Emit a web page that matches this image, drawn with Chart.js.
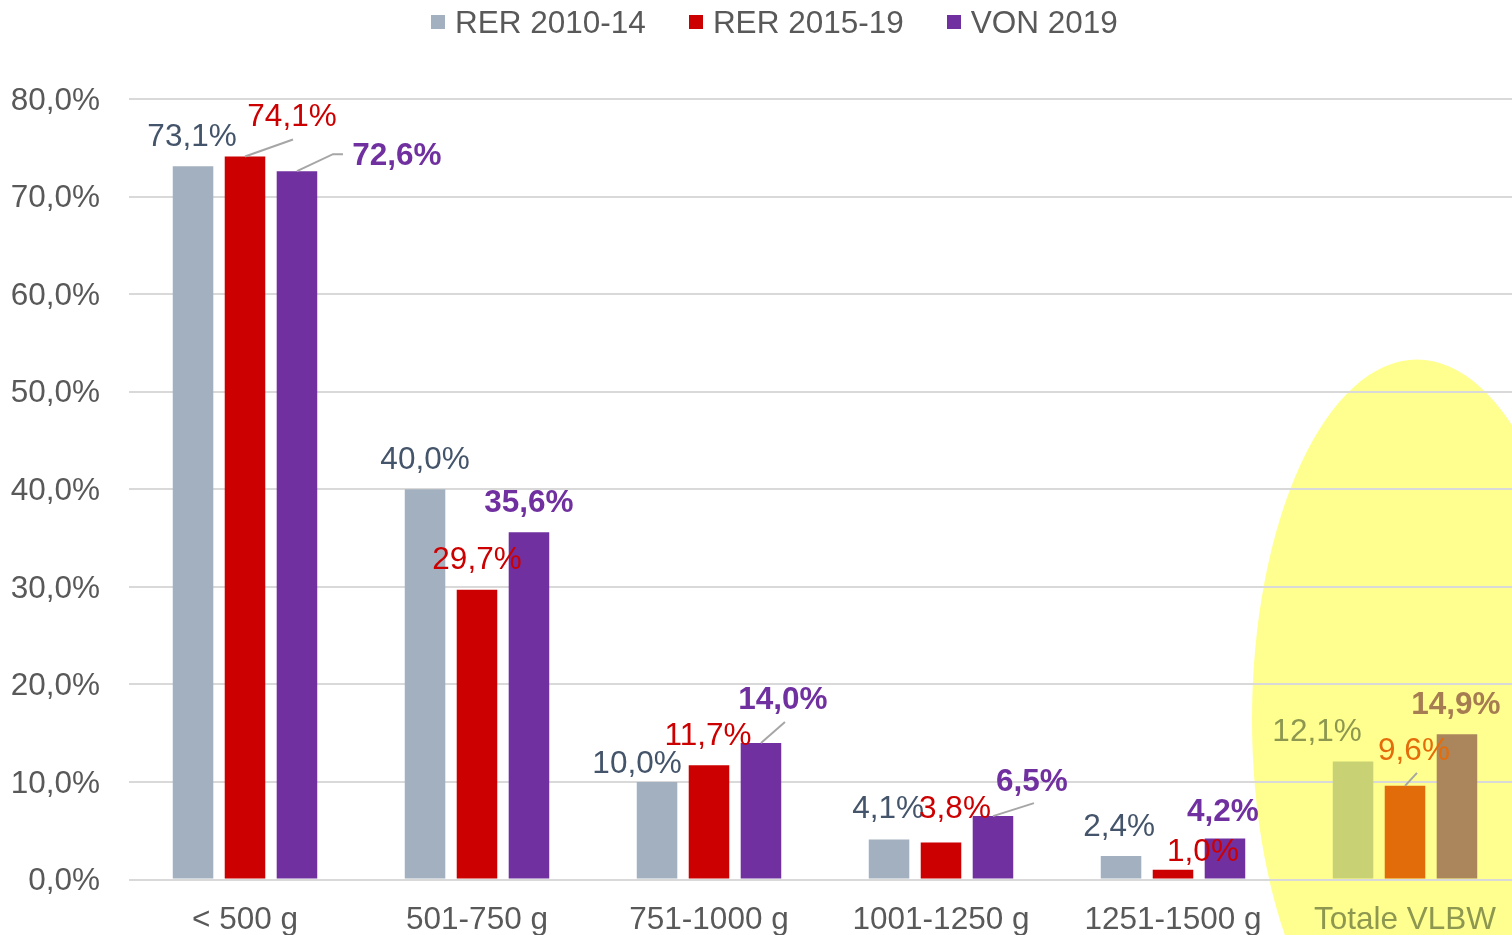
<!DOCTYPE html>
<html>
<head>
<meta charset="utf-8">
<script src="https://cdn.jsdelivr.net/npm/chart.js@4.4.1/dist/chart.umd.min.js"></script>
<style>
html, body { margin: 0; padding: 0; background: #fff; overflow: hidden; }
#wrap { position: absolute; left: 0; top: 0; width: 1521px; height: 935px; }
#legend {
    position: absolute; left: 431px; top: 0; height: 44px; z-index: 2;
    display: flex; align-items: center;
    font-family: 'Liberation Sans', Arial, sans-serif; font-size: 31.5px; color: #595959;
}
.item { display: flex; align-items: center; margin-right: 43px; }
.box { width: 14px; height: 14px; margin-right: 10px; }
</style>
</head>
<body>
<div id="wrap"><canvas id="chart"></canvas></div>
<div id="legend"></div>
<script>
// --- dati ---
const categories = ['< 500 g', '501-750 g', '751-1000 g', '1001-1250 g', '1251-1500 g', 'Totale VLBW'];
const seriesNames = ['RER 2010-14', 'RER 2015-19', 'VON 2019'];
const rer1014 = [73.1, 40.0, 10.0, 4.1, 2.4, 12.1];
const rer1519 = [74.1, 29.7, 11.7, 3.8, 1.0, 9.6];
const von2019 = [72.6, 35.6, 14.0, 6.5, 4.2, 14.9];
const yMin = 0, yMax = 80, yStep = 10;

// --- stile ---
const FONT = "'Liberation Sans', Arial, sans-serif";
const FS = 31.5;
const barColors = [
    ['#a3b0bf', '#a3b0bf', '#a3b0bf', '#a3b0bf', '#a3b0bf', '#c8d173'],
    ['#cc0000', '#cc0000', '#cc0000', '#cc0000', '#cc0000', '#e26b0a'],
    ['#7030a0', '#7030a0', '#7030a0', '#7030a0', '#7030a0', '#ab855c']
];
const labelColors = [
    ['#44546a', '#44546a', '#44546a', '#44546a', '#44546a', '#8d9750'],
    ['#cc0000', '#cc0000', '#cc0000', '#cc0000', '#cc0000', '#e46c0a'],
    ['#7030a0', '#7030a0', '#7030a0', '#7030a0', '#7030a0', '#a67c52']
];
const labelBold = [false, false, true];

// spostamento etichette rispetto alla cima della barra [dx, dy]
const labelShift = [
    [[-1, -29], [0, -29], [-20, -18], [-1, -30], [-2, -29], [-36, -29]],
    [[47, -39], [0, -29], [-1, -29], [14, -33], [30, -17], [9, -35]],
    [[100, -15], [0, -29], [22, -43], [39, -34], [-2, -26], [-1, -29]]
];
// linee guida: punti relativi al centro dell'etichetta
const leaders = {
    '1-0': [[1, 22]],
    '1-5': [[3, 22]],
    '2-0': [[-64, -2], [-54, -2]],
    '2-2': [[2, 22]],
    '2-3': [[2, 21]]
};

const fmt = v => v.toFixed(1).replace('.', ',') + '%';

// legenda html
const legendEl = document.getElementById('legend');
seriesNames.forEach((name, i) => {
    const it = document.createElement('div');
    it.className = 'item';
    it.innerHTML = `<span class="box" style="background:${barColors[i][0]}"></span><span>${name}</span>`;
    legendEl.appendChild(it);
});

const highlight = {
    id: 'highlight',
    beforeDraw(chart) {
        const { ctx, scales: { x, y } } = chart;
        ctx.save();
        ctx.fillStyle = '#ffff8f';
        ctx.beginPath();
        ctx.ellipse(x.getPixelForValue(5) + 12, y.getPixelForValue(16.4), 165, 360, 0, 0, Math.PI * 2);
        ctx.fill();
        ctx.restore();
    }
};

const valueLabels = {
    id: 'valueLabels',
    afterDatasetsDraw(chart) {
        const ctx = chart.ctx;
        ctx.save();
        chart.data.datasets.forEach((ds, di) => {
            const meta = chart.getDatasetMeta(di);
            meta.data.forEach((bar, i) => {
                const [dx, dy] = labelShift[di][i];
                const lx = bar.x + dx, ly = bar.y + dy;
                const pts = leaders[di + '-' + i];
                if (pts) {
                    ctx.strokeStyle = '#a6a6a6';
                    ctx.lineWidth = 2;
                    ctx.beginPath();
                    ctx.moveTo(bar.x, bar.y);
                    pts.forEach(p => ctx.lineTo(lx + p[0], ly + p[1]));
                    ctx.stroke();
                }
                ctx.fillStyle = labelColors[di][i];
                ctx.font = (labelBold[di] ? 'bold ' : '') + FS + 'px ' + FONT;
                ctx.textAlign = 'center';
                ctx.textBaseline = 'middle';
                ctx.fillText(fmt(ds.data[i]), lx, ly);
            });
        });
        ctx.restore();
    }
};

new Chart(document.getElementById('chart'), {
    type: 'bar',
    data: {
        labels: categories,
        datasets: [rer1014, rer1519, von2019].map((d, i) => ({
            label: seriesNames[i],
            data: d,
            backgroundColor: barColors[i],
            categoryPercentage: 0.672,
            barPercentage: 0.78
        }))
    },
    options: {
        responsive: true,
        maintainAspectRatio: false,
        animation: false,
        layout: { padding: { top: 99, right: 0, bottom: 0, left: 0 } },
        plugins: { legend: { display: false }, tooltip: { enabled: false } },
        scales: {
            x: {
                grid: { display: false },
                border: { display: false },
                ticks: {
                    padding: 14,
                    color: c => c.index === 5 ? '#8d9750' : '#595959',
                    font: { family: FONT, size: FS },
                    maxRotation: 0, autoSkip: false
                },
                afterFit: s => { s.height = 55.5; }
            },
            y: {
                min: yMin, max: yMax,
                grid: { color: '#d9d9d9', lineWidth: 2, drawTicks: false },
                border: { display: false },
                ticks: {
                    stepSize: yStep,
                    padding: 29,
                    labelOffset: 2,
                    color: '#595959',
                    font: { family: FONT, size: FS },
                    callback: v => fmt(v)
                },
                afterFit: s => { s.width = 129; }
            }
        }
    },
    plugins: [highlight, valueLabels]
});
</script>
</body>
</html>
